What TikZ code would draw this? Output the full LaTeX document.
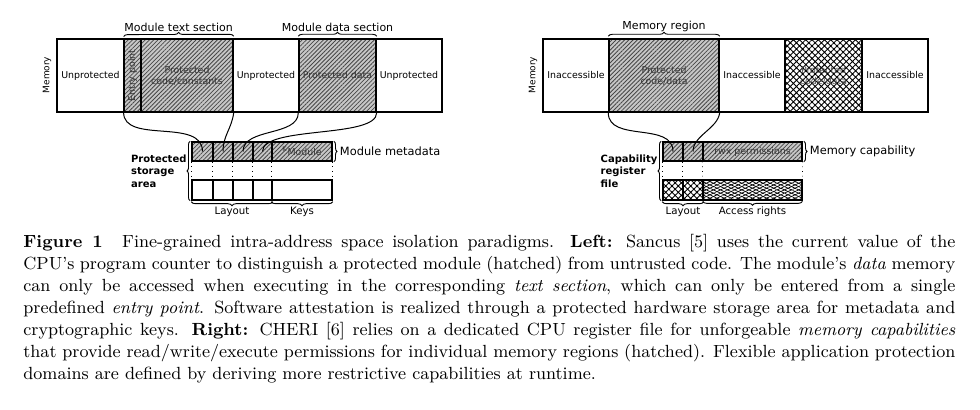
\documentclass[tikz,border=0pt]{standalone}
\usepackage{fontspec}
\newfontfamily\diagfont{DejaVu Sans}
\usetikzlibrary{fit,patterns.meta,decorations.pathreplacing}

\definecolor{hatchbg}{gray}{0.78}
\definecolor{hatchln}{gray}{0.28}
\newcommand\capline[1]{\hbox to 466pt{#1}}

\tikzset{
  seg/.style={draw, line width=0.7pt, inner sep=0pt, fill=white},
  hatched/.style={draw, line width=0.7pt, inner sep=0pt, preaction={fill=hatchbg},
    pattern={Lines[angle=45,distance=1.5pt,line width=0.4pt]}, pattern color=hatchln},
  crossed/.style={draw, line width=0.7pt, inner sep=0pt, preaction={fill=white},
    pattern={Hatch[angle=45,distance=2.2pt,line width=0.45pt]}, pattern color=black},
  flatcross/.style={draw, line width=0.7pt, inner sep=0pt,
    preaction={pattern={Lines[angle=25,distance=1.5pt,line width=0.35pt]}, pattern color=black},
    pattern={Lines[angle=-25,distance=1.5pt,line width=0.35pt]}, pattern color=black},
  segtext/.style={font=\diagfont\fontsize{4.7}{5.6}\selectfont, align=center, inner sep=0pt},
  memlabel/.style={font=\diagfont\fontsize{4.5}{5.4}\selectfont, rotate=90, inner sep=0pt},
  toplabel/.style={font=\diagfont\fontsize{5.5}{6.6}\selectfont, inner sep=0pt},
  sidelabel/.style={font=\diagfont\fontsize{5.7}{6.8}\selectfont, inner sep=0pt},
  botlabel/.style={font=\diagfont\fontsize{5.1}{6.1}\selectfont, inner sep=0pt},
  boldlabel/.style={font=\diagfont\bfseries\fontsize{5}{6.25}\selectfont, align=left, inner sep=0pt},
  curly/.style={decorate, decoration={brace, amplitude=2pt}, line width=0.45pt},
  link/.style={line width=0.5pt},
  sep/.style={dotted, line width=0.35pt},
  figcaption/.style={anchor=north west, inner sep=0pt, text width=466pt, align=justify,
    font=\fontsize{8.8}{11}\selectfont}
}

\begin{document}
\begin{tikzpicture}[x=0.5pt, y=-0.5pt]
  \useasboundingbox (0,0) rectangle (980,410);

  % left: memory layout of the module
  \node[memlabel] (memL) at (47,75) {Memory};
  \node[seg, fit={(57,39) (124,112)}] (u1) {};
  \node[hatched, fit={(124,39) (141,112)}] (ep) {};
  \node[hatched, fit={(141,39) (233,112)}] (code) {};
  \node[seg, fit={(233,39) (299,112)}] (u2) {};
  \node[hatched, fit={(299,39) (376,112)}] (data) {};
  \node[seg, fit={(376,39) (442,112)}] (u3) {};
  \node[segtext] at (u1) {Unprotected};
  \node[segtext, rotate=90, text=black!80] at (ep) {Entry point};
  \node[segtext, text=black!80] at (code) {Protected\\code/constants};
  \node[segtext] at (u2) {Unprotected};
  \node[segtext, text=black!80] at (data) {Protected data};
  \node[segtext] at (u3) {Unprotected};
  \draw[curly] ([yshift=1pt]ep.north west) -- ([yshift=1pt]code.north east)
    node[toplabel, midway, above=2.2pt] (txtsec) {Module text section};
  \draw[curly] ([yshift=1pt]data.north west) -- ([yshift=1pt]data.north east)
    node[toplabel, midway, above=2.2pt] (datsec) {Module data section};

  % left: protected storage area
  \node[hatched, fit={(192,142) (213,161)}] (c1) {};
  \node[hatched, fit={(213,142) (233,161)}] (c2) {};
  \node[hatched, fit={(233,142) (253,161)}] (c3) {};
  \node[hatched, fit={(253,142) (272,161)}] (c4) {};
  \node[hatched, fit={(272,142) (332,161)}] (key) {};
  \node[segtext, text=black!80] at (key) {\textsuperscript{K}Module};
  \node[seg, fit={(192,180) (213,200)}] (b1) {};
  \node[seg, fit={(213,180) (233,200)}] (b2) {};
  \node[seg, fit={(233,180) (253,200)}] (b3) {};
  \node[seg, fit={(253,180) (272,200)}] (b4) {};
  \node[seg, fit={(272,180) (332,200)}] (bkey) {};
  \draw[sep] (c1.south west) -- (b1.north west);
  \draw[sep] (c2.south west) -- (b2.north west);
  \draw[sep] (c3.south west) -- (b3.north west);
  \draw[sep] (c4.south west) -- (b4.north west);
  \draw[sep] (key.south west) -- (bkey.north west);
  \draw[sep] (key.south east) -- (bkey.north east);
  \draw[link] (ep.south west) .. controls +(0,32) and +(0,-34) .. (c1.center);
  \draw[link] (code.south east) .. controls +(-2,16) and +(0,-16) .. (c2.center);
  \draw[link] (data.south west) .. controls +(0,24) and +(0,-24) .. (c3.center);
  \draw[link] (data.south east) .. controls +(0,26) and +(0,-26) .. (c4.center);
  \draw[curly, decoration={amplitude=1.6pt}] ([xshift=-0.6pt]b1.south west) -- ([xshift=-0.6pt]c1.north west)
    node[boldlabel, midway, left=1.6pt] (store) {Protected\\storage\\area};
  \draw[curly, decoration={amplitude=1.6pt}] ([xshift=0.6pt]key.north east) -- ([xshift=0.6pt]key.south east)
    node[sidelabel, midway, right=2.8pt] (meta) {Module metadata};
  \draw[curly] ([yshift=-0.5pt]b4.south east) -- ([yshift=-0.5pt]b1.south west)
    node[botlabel, midway, below=2.5pt] (layL) {Layout};
  \draw[curly] ([yshift=-0.5pt]bkey.south east) -- ([yshift=-0.5pt]bkey.south west)
    node[botlabel, midway, below=2.5pt] (keys) {Keys};

  % right: memory regions
  \node[memlabel] (memR) at (533,75) {Memory};
  \node[seg, fit={(543,39) (609,112)}] (i1) {};
  \node[hatched, fit={(609,39) (719,112)}] (reg) {};
  \node[seg, fit={(719,39) (785,112)}] (i2) {};
  \node[crossed, fit={(785,39) (862,112)}] (reg2) {};
  \node[seg, fit={(862,39) (928,112)}] (i3) {};
  \node[segtext] at (i1) {Inaccessible};
  \node[segtext, text=black!80] at (reg) {Protected\\code/data};
  \node[segtext] at (i2) {Inaccessible};
  \node[segtext, text=black!70] at (reg2) {Protected\\code/data};
  \node[segtext] at (i3) {Inaccessible};
  \draw[curly] ([yshift=1pt]reg.north west) -- ([yshift=1pt]reg.north east)
    node[toplabel, midway, above=2.2pt] (region) {Memory region};

  % right: capability register file
  \node[hatched, fit={(663,142) (683,161)}] (r1) {};
  \node[hatched, fit={(683,142) (703,161)}] (r2) {};
  \node[hatched, fit={(703,142) (802,161)}] (perm) {};
  \node[segtext, text=black!80] at (perm) {rwx permissions};
  \node[crossed, fit={(663,180) (683,200)}] (s1) {};
  \node[crossed, fit={(683,180) (703,200)}] (s2) {};
  \node[flatcross, fit={(703,180) (802,200)}] (acc) {};
  \draw[sep] (r1.south west) -- (s1.north west);
  \draw[sep] (r2.south west) -- (s2.north west);
  \draw[sep] (perm.south west) -- (acc.north west);
  \draw[sep] (perm.south east) -- (acc.north east);
  \draw[link] (reg.south west) .. controls +(0,30) and +(0,-30) .. (r1.center);
  \draw[link] (reg.south east) .. controls +(-2,16) and +(0,-16) .. (r2.center);
  \draw[curly, decoration={amplitude=1.6pt}] ([xshift=-0.6pt]s1.south west) -- ([xshift=-0.6pt]r1.north west)
    node[boldlabel, midway, left=1.6pt] (capfile) {Capability\\register\\file};
  \draw[curly, decoration={amplitude=1.6pt}] ([xshift=0.6pt]perm.north east) -- ([xshift=0.6pt]perm.south east)
    node[sidelabel, midway, right=2.8pt] (memcap) {Memory capability};
  \draw[curly] ([yshift=-0.5pt]s2.south east) -- ([yshift=-0.5pt]s1.south west)
    node[botlabel, midway, below=2.5pt] (layR) {Layout};
  \draw[curly] ([yshift=-0.5pt]acc.south east) -- ([yshift=-0.5pt]acc.south west)
    node[botlabel, midway, below=2.5pt] (rights) {Access rights};

  % caption
  \node[figcaption] (cap) at (23,234) {%
    \capline{\textbf{Figure 1}\hspace{1.1em}Fine-grained intra-address space isolation paradigms. \textbf{Left:} Sancus [5] uses the current value of the}
    \capline{CPU's program counter to distinguish a protected module (hatched) from untrusted code. The module's \textit{data} memory}
    \capline{can only be accessed when executing in the corresponding \textit{text section}, which can only be entered from a single}
    \capline{predefined \textit{entry point}. Software attestation is realized through a protected hardware storage area for metadata and}
    \capline{cryptographic keys. \textbf{Right:} CHERI [6] relies on a dedicated CPU register file for unforgeable \textit{memory capabilities}}
    \capline{that provide read/write/execute permissions for individual memory regions (hatched). Flexible application protection}
    domains are defined by deriving more restrictive capabilities at runtime.};
\end{tikzpicture}
\end{document}
